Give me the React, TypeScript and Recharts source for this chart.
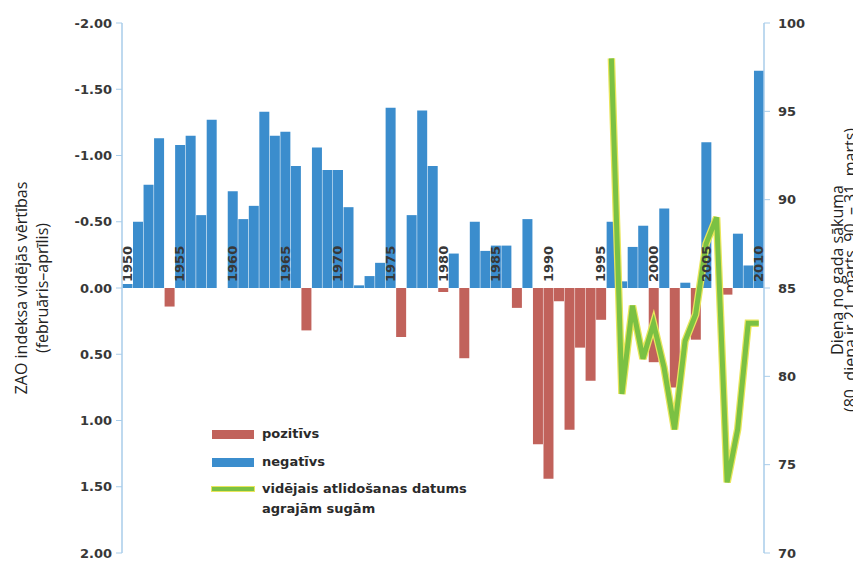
import React from 'react';
import { ComposedChart, Bar, Line, XAxis, YAxis, Legend, ReferenceDot, Cell } from 'recharts';

const years = [
  '1950','1951','1952','1953','1954','1955','1956','1957','1958','1959',
  '1960','1961','1962','1963','1964','1965','1966','1967','1968','1969',
  '1970','1971','1972','1973','1974','1975','1976','1977','1978','1979',
  '1980','1981','1982','1983','1984','1985','1986','1987','1988','1989',
  '1990','1991','1992','1993','1994','1995','1996','1997','1998','1999',
  '2000','2001','2002','2003','2004','2005','2006','2007','2008','2009','2010'
];

const zaoIndex = [
  -0.03, -0.50, -0.78, -1.13, 0.14, -1.08, -1.15, -0.55, -1.27, 0,
  -0.73, -0.52, -0.62, -1.33, -1.15, -1.18, -0.92, 0.32, -1.06, -0.89,
  -0.89, -0.61, -0.02, -0.09, -0.19, -1.36, 0.37, -0.55, -1.34, -0.92,
  0.03, -0.26, 0.53, -0.50, -0.28, -0.32, -0.32, 0.15, -0.52, 1.18,
  1.44, 0.10, 1.07, 0.45, 0.70, 0.24, -0.50, -0.05, -0.31, -0.47,
  0.56, -0.60, 0.75, -0.04, 0.39, -1.10, 0, 0.05, -0.41, -0.17, -1.64
];

const arrivalYears = ['1996','1997','1998','1999','2000','2001','2002','2003','2004','2005','2006','2007','2008','2009','2010'];
const arrivalDays = [98, 79, 84, 81, 83, 80.5, 77, 82, 83.5, 87.5, 89, 74, 77, 83, 83];

const yearLabels = ['1950','1955','1960','1965','1970','1975','1980','1985','1990','1995','2000','2005','2010'];
const leftTicks = [-2, -1.5, -1, -0.5, 0, 0.5, 1, 1.5, 2];
const rightTicks = [70, 75, 80, 85, 90, 95, 100];

const legendLabels = ['pozitīvs', 'negatīvs', 'vidējais atlidošanas datums', 'agrajām sugām'];
const leftTitle = ['ZAO indeksa vidējās vērtības', '(februāris–aprīlis)'];
const rightTitle = ['Diena no gada sākuma', '(80. diena ir 21. marts, 90. – 31. marts)'];

const RED = '#c1625b';
const BLUE = '#3b8dcd';
const GREEN = '#7bc143';
const HALO = '#e9e65c';
const AXIS = '#a9cdea';
const TEXT = '#383838';

const data = years.map((y, i) => {
  const j = arrivalYears.indexOf(y);
  return { year: y, value: zaoIndex[i], day: j >= 0 ? arrivalDays[j] : null };
});

const tickStyle = { fontFamily: 'DejaVu Sans', fontSize: 13, fontWeight: 'bold', fill: TEXT };

const YearLabel = (props: any) => {
  const vb = props.viewBox || {};
  const x = vb.x;
  const y = vb.y - 6;
  return (
    <text
      x={x}
      y={y}
      transform={`rotate(-90, ${x}, ${y})`}
      textAnchor="start"
      dominantBaseline="central"
      style={tickStyle as any}
    >
      {props.text}
    </text>
  );
};

const LeftTitle = (props: any) => {
  const vb = props.viewBox || {};
  const cy = vb.y + vb.height / 2;
  const x1 = vb.x + 13;
  const x2 = vb.x + 34;
  const st = { fontFamily: 'Open Sans', fontSize: 16, fill: '#222' } as any;
  return (
    <g>
      <text x={x1} y={cy} transform={`rotate(-90, ${x1}, ${cy})`} textAnchor="middle" dominantBaseline="central" style={st}>{leftTitle[0]}</text>
      <text x={x2} y={cy} transform={`rotate(-90, ${x2}, ${cy})`} textAnchor="middle" dominantBaseline="central" style={st}>{leftTitle[1]}</text>
    </g>
  );
};

const RightTitle = (props: any) => {
  const vb = props.viewBox || {};
  const cy = vb.y + vb.height / 2 - 18;
  const x1 = vb.x + 73;
  const x2 = vb.x + 86;
  const st = { fontFamily: 'Open Sans', fontSize: 16, fill: '#222' } as any;
  return (
    <g>
      <text x={x1} y={cy} transform={`rotate(-90, ${x1}, ${cy})`} textAnchor="middle" dominantBaseline="central" style={st}>{rightTitle[0]}</text>
      <text x={x2} y={cy} transform={`rotate(-90, ${x2}, ${cy})`} textAnchor="middle" dominantBaseline="central" style={st}>{rightTitle[1]}</text>
    </g>
  );
};

const LegendContent = () => {
  const txt = { fontFamily: 'DejaVu Sans', fontSize: 13, fontWeight: 'bold' as const, color: '#2a2a2a', lineHeight: '20px', whiteSpace: 'nowrap' as const };
  return (
    <div style={{ display: 'flex', flexDirection: 'column' }}>
      <div style={{ display: 'flex', alignItems: 'center', height: 20, marginBottom: 8 }}>
        <div style={{ width: 42, height: 9, background: RED, marginRight: 8 }} />
        <span style={txt}>{legendLabels[0]}</span>
      </div>
      <div style={{ display: 'flex', alignItems: 'center', height: 20, marginBottom: 7 }}>
        <div style={{ width: 42, height: 9, background: BLUE, marginRight: 8 }} />
        <span style={txt}>{legendLabels[1]}</span>
      </div>
      <div style={{ display: 'flex', alignItems: 'flex-start' }}>
        <div style={{ width: 42, height: 4, background: GREEN, boxShadow: `0 0 0 1px ${HALO}`, marginRight: 8, marginTop: 8 }} />
        <div style={txt}>
          <div>{legendLabels[2]}</div>
          <div>{legendLabels[3]}</div>
        </div>
      </div>
    </div>
  );
};

export default function App() {
  return (
    <ComposedChart
      width={853}
      height={554}
      data={data}
      margin={{ top: 15, right: 0, bottom: 9, left: 0 }}
      barCategoryGap={0.5}
    >
      <XAxis dataKey="year" hide />
      <YAxis
        yAxisId="left"
        orientation="left"
        width={114}
        domain={[-2, 2]}
        ticks={leftTicks}
        interval={0}
        reversed
        allowDataOverflow
        tickFormatter={(v: number) => v.toFixed(2)}
        tick={tickStyle}
        axisLine={{ stroke: AXIS, strokeWidth: 1.5 }}
        tickLine={{ stroke: AXIS }}
        tickSize={6}
        tickMargin={4}
        label={{ content: LeftTitle } as any}
      />
      <YAxis
        yAxisId="right"
        orientation="right"
        width={97}
        domain={[70, 100]}
        ticks={rightTicks}
        interval={0}
        allowDataOverflow
        tick={tickStyle}
        axisLine={{ stroke: AXIS, strokeWidth: 1.5 }}
        tickLine={{ stroke: AXIS }}
        tickSize={6}
        tickMargin={8}
        label={{ content: RightTitle } as any}
      />
      <Bar yAxisId="left" dataKey="value" isAnimationActive={false}>
        {zaoIndex.map((v, i) => (
          <Cell key={i} fill={v > 0 ? RED : BLUE} />
        ))}
      </Bar>
      {yearLabels.map((y) => (
        <ReferenceDot
          key={y}
          yAxisId="left"
          x={y}
          y={0}
          r={0}
          fill="none"
          stroke="none"
          label={(p: any) => <YearLabel {...p} text={y} />}
        />
      ))}
      <Line
        yAxisId="right"
        dataKey="day"
        type="linear"
        stroke={HALO}
        strokeWidth={7.5}
        dot={false}
        activeDot={false}
        isAnimationActive={false}
        legendType="none"
      />
      <Line
        yAxisId="right"
        dataKey="day"
        type="linear"
        stroke={GREEN}
        strokeWidth={5}
        dot={false}
        activeDot={false}
        isAnimationActive={false}
      />
      <Legend
        layout="vertical"
        align="center"
        verticalAlign="middle"
        content={LegendContent as any}
        wrapperStyle={{ position: 'absolute', left: 204, top: 416, width: 340, height: 100 }}
      />
    </ComposedChart>
  );
}
